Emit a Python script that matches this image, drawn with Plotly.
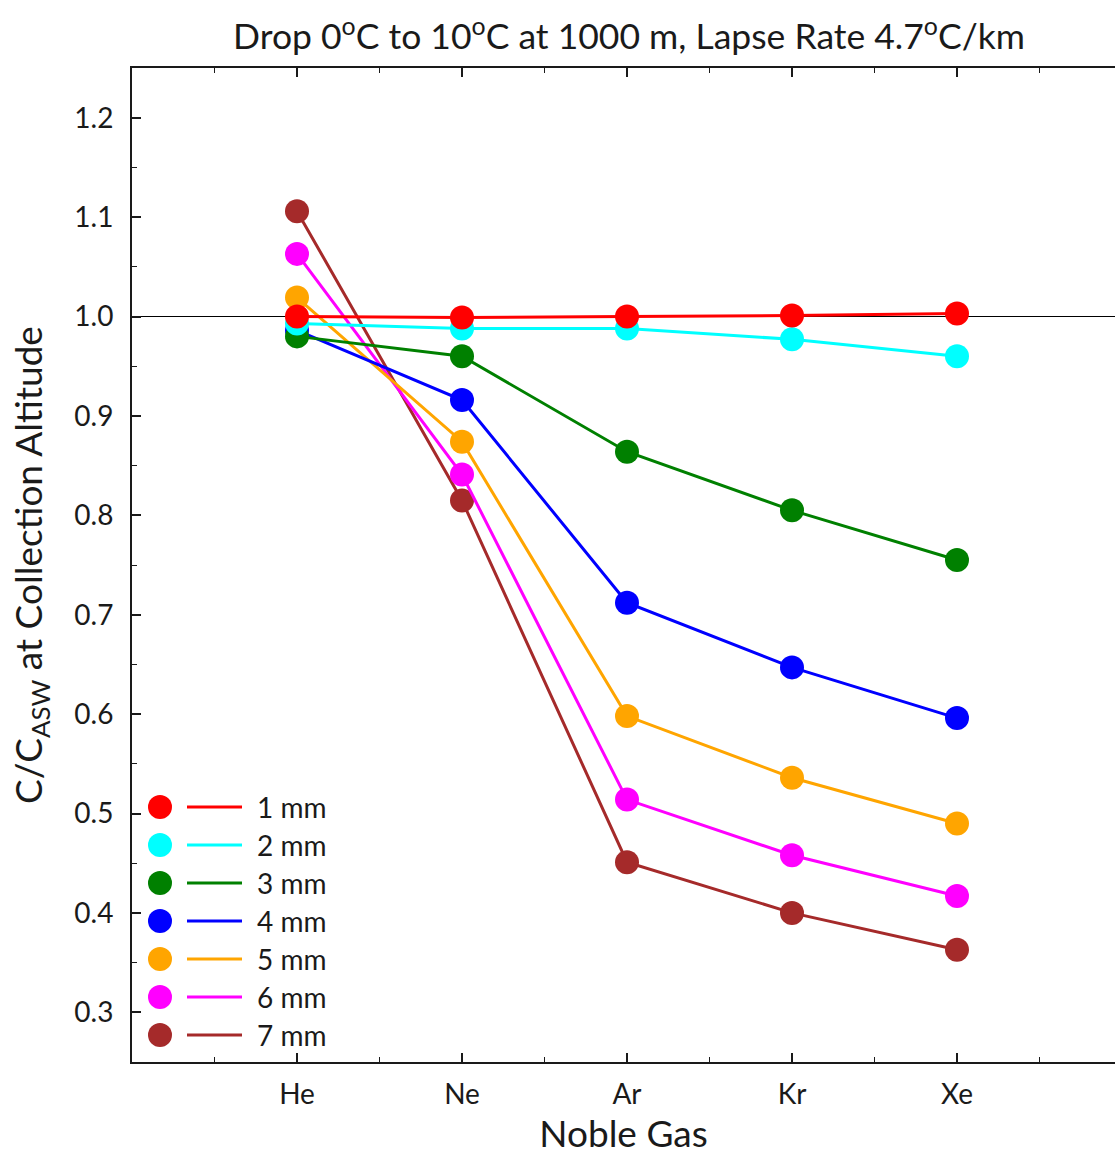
import plotly.graph_objects as go

gases = ["He", "Ne", "Ar", "Kr", "Xe"]
gas_pos = [1, 2, 3, 4, 5]
series_names = ["1 mm", "2 mm", "3 mm", "4 mm", "5 mm", "6 mm", "7 mm"]
colors = ["#ff0000", "#00ffff", "#008000", "#0000ff", "#ffa500", "#ff00ff", "#a52a2a"]

v_1mm = [1.000, 0.999, 1.000, 1.001, 1.003]
v_2mm = [0.993, 0.988, 0.988, 0.977, 0.960]
v_3mm = [0.980, 0.960, 0.864, 0.805, 0.755]
v_4mm = [0.986, 0.916, 0.712, 0.647, 0.596]
v_5mm = [1.019, 0.874, 0.598, 0.536, 0.490]
v_6mm = [1.063, 0.841, 0.514, 0.458, 0.417]
v_7mm = [1.106, 0.815, 0.451, 0.400, 0.363]
values = [v_1mm, v_2mm, v_3mm, v_4mm, v_5mm, v_6mm, v_7mm]

y_ticks = [0.3, 0.4, 0.5, 0.6, 0.7, 0.8, 0.9, 1.0, 1.1, 1.2]

W, H = 1115, 1157
ML, MR, MT, MB = 132, 0, 68, 95
PW, PH = W - ML - MR, H - MT - MB
FONT = "Lato, 'Open Sans', sans-serif"
TXT = "#1a1a1a"

fig = go.Figure()

# draw in reverse so 1 mm ends on top
for name, col, vals in reversed(list(zip(series_names, colors, values))):
    fig.add_trace(go.Scatter(
        x=gas_pos, y=vals, mode="lines+markers", name=name,
        line=dict(color=col, width=3),
        marker=dict(color=col, size=24, line=dict(width=0)),
        showlegend=False,
    ))

def px_to_paper_x(px):
    return (px - ML) / PW

def px_to_paper_y(py):
    return 1 - (py - MT) / PH

shapes = [dict(type="line", xref="paper", yref="y", x0=0, x1=1, y0=1.0, y1=1.0,
               line=dict(color="black", width=1.2), layer="below")]
annotations = []
row0, drow = 807, 38
for i, (name, col) in enumerate(zip(series_names, colors)):
    cy = row0 + i * drow
    r = 12
    shapes.append(dict(type="circle", xref="paper", yref="paper",
                       x0=px_to_paper_x(160 - r), x1=px_to_paper_x(160 + r),
                       y0=px_to_paper_y(cy + r), y1=px_to_paper_y(cy - r),
                       fillcolor=col, line=dict(width=0), layer="above"))
    shapes.append(dict(type="line", xref="paper", yref="paper",
                       x0=px_to_paper_x(187), x1=px_to_paper_x(242),
                       y0=px_to_paper_y(cy), y1=px_to_paper_y(cy),
                       line=dict(color=col, width=3), layer="above"))
    annotations.append(dict(xref="paper", yref="paper",
                            x=px_to_paper_x(255), y=px_to_paper_y(cy),
                            xanchor="left", yanchor="middle", showarrow=False,
                            text=name, font=dict(family=FONT, size=28, color=TXT)))

fig.update_layout(
    width=W, height=H,
    margin=dict(l=ML, r=MR, t=MT, b=MB),
    paper_bgcolor="white", plot_bgcolor="white",
    showlegend=False,
    title=dict(text="Drop 0<sup>o</sup>C to 10<sup>o</sup>C at 1000 m, Lapse Rate 4.7<sup>o</sup>C/km",
               x=629 / W, xanchor="center", y=1 - 37 / H, yanchor="middle",
               font=dict(family=FONT, size=35.5, color=TXT)),
    shapes=shapes, annotations=annotations,
    font=dict(family=FONT, color=TXT),
)

fig.update_xaxes(
    range=[0, PW / 165.0],
    tickmode="array", tickvals=gas_pos, ticktext=gases,
    ticks="inside", ticklen=9, tickwidth=1.5, tickcolor=TXT,
    minor=dict(tickvals=[0.5, 1.5, 2.5, 3.5, 4.5, 5.5], ticks="inside", ticklen=5, tickwidth=1.2, tickcolor=TXT),
    showline=True, linecolor=TXT, linewidth=2, mirror="ticks",
    showgrid=False, zeroline=False,
    tickfont=dict(family=FONT, size=28, color=TXT),
    title=dict(text="Noble Gas", font=dict(family=FONT, size=37, color=TXT), standoff=8),
    ticklabelstandoff=6,
)
fig.update_yaxes(
    range=[0.25, 1.25],
    tickmode="array", tickvals=y_ticks, ticktext=[f"{v:.1f}" for v in y_ticks],
    ticks="inside", ticklen=9, tickwidth=1.5, tickcolor=TXT,
    minor=dict(dtick=0.05, tick0=0.25, ticks="inside", ticklen=5, tickwidth=1.2, tickcolor=TXT),
    showline=True, linecolor=TXT, linewidth=2,
    showgrid=False, zeroline=False,
    tickfont=dict(family=FONT, size=28, color=TXT),
    title=dict(text="C/C<sub>ASW</sub> at Collection Altitude", font=dict(family=FONT, size=37, color=TXT), standoff=20),
    ticklabelstandoff=11,
)

fig.write_html("out.html")
